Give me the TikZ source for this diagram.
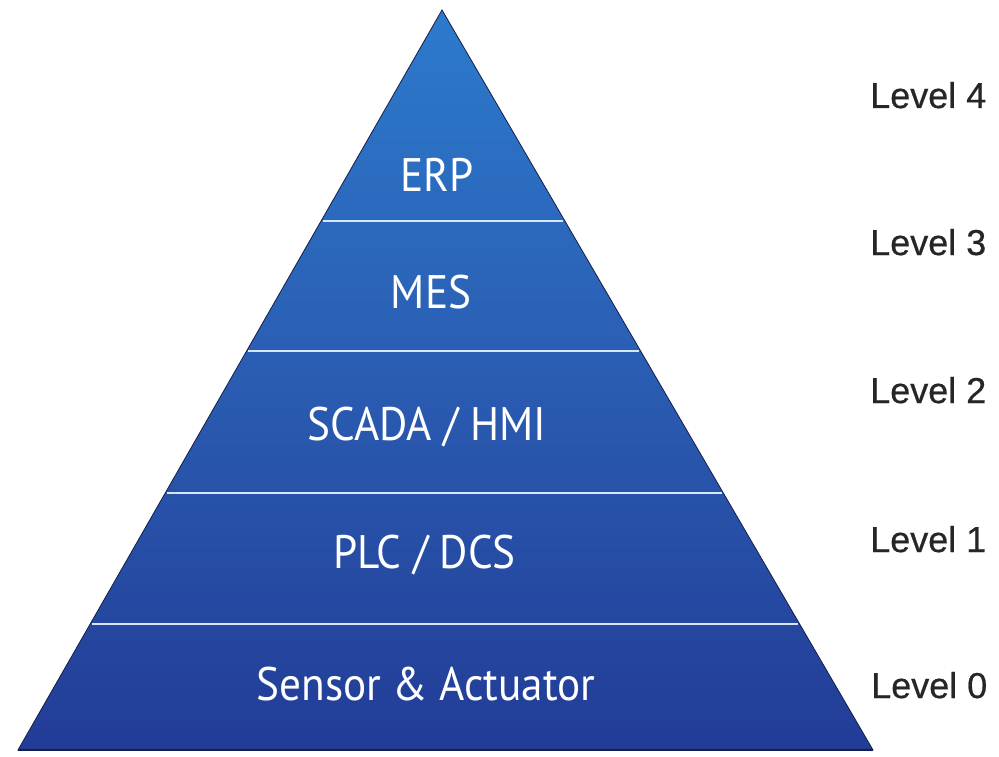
\documentclass[tikz,border=0pt]{standalone}
\usepackage{fontspec}
\setmainfont{Liberation Sans}
\newfontfamily\bandfont[FakeStretch=0.92]{PT Sans}
\newfontfamily\lvlfont[FakeBold=0.6]{Liberation Sans}
\usetikzlibrary{calc}
\definecolor{pyrtop}{RGB}{44,122,204}
\definecolor{pyrmid}{RGB}{42,92,178}
\definecolor{pyrbot}{RGB}{34,60,150}
\definecolor{pyredge}{RGB}{20,30,70}
\definecolor{divcol}{RGB}{215,230,245}
\begin{document}
\begin{tikzpicture}[x=1pt,y=-1pt,
  band/.style={text=white,font=\bandfont\fontsize{47}{50}\selectfont,inner sep=0pt,anchor=base},
  lvl/.style={text=black!85,font=\lvlfont\fontsize{36}{40}\selectfont,inner sep=0pt,anchor=base west},
  divider/.style={draw=divcol,line width=1.6pt}]
\useasboundingbox (0,0) rectangle (999,757);
\coordinate (apex) at (442,10);
\coordinate (bl) at (18,750);
\coordinate (br) at (873,750);
\shade[top color=pyrtop,bottom color=pyrbot,middle color=pyrmid] (apex) -- (bl) -- (br) -- cycle;
\draw[pyredge,line width=0.8pt,line join=miter] (apex) -- (bl) -- (br) -- cycle;
\draw[pyredge,line width=2pt] (bl) -- (br);
% dividers
\foreach \t/\n in {0.2851/a,0.4608/b,0.6527/c,0.8297/d}{
  \coordinate (L\n) at ($(apex)!\t!(bl)$);
  \coordinate (R\n) at ($(apex)!\t!(br)$);
  \draw[divider] ($(L\n)+(1.5,0)$) -- ($(R\n)+(-1.5,0)$);
}
% band labels
\node[band] (erp) at (437,192) {ERP};
\node[band] (mes) at (431,308) {MES};
\node[band] (scada) at (427,440) {SCADA / HMI};
\node[band] (plc) at (424.5,568) {PLC / DCS};
\node[band] (sensor) at (426,700) {Sensor \& Actuator};
% level labels
\node[lvl] (l4) at (870,108) {Level 4};
\node[lvl] (l3) at (870,255) {Level 3};
\node[lvl] (l2) at (870,403) {Level 2};
\node[lvl] (l1) at (870,552) {Level 1};
\node[lvl] (l0) at (871,698) {Level 0};
\end{tikzpicture}
\end{document}
